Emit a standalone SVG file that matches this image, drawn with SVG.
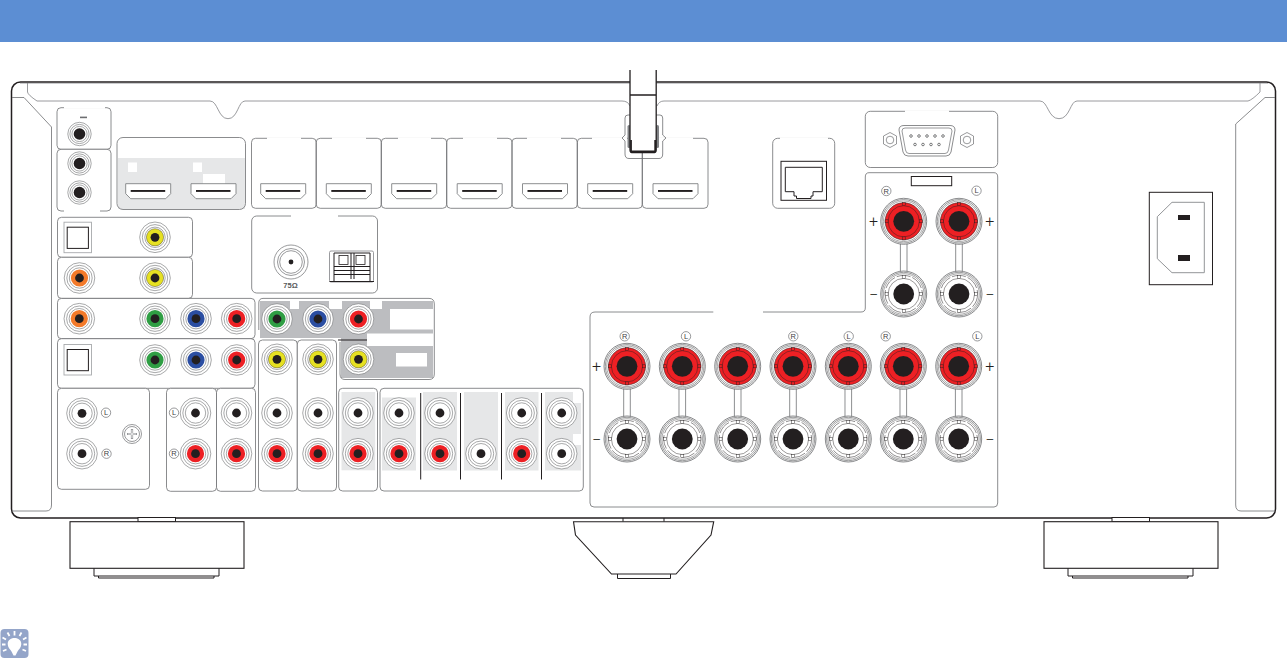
<svg xmlns="http://www.w3.org/2000/svg" xmlns:xlink="http://www.w3.org/1999/xlink" width="1287" height="658" viewBox="0 0 1287 658">
<style>
.p{fill:none;stroke:#6d6e71;stroke-width:.8}
.pf{fill:#fff;stroke:#6d6e71;stroke-width:.8}
.g{fill:none;stroke:#808285;stroke-width:.8}
.k{fill:none;stroke:#231f20;stroke-width:1}
.b{fill:#231f20}
.w{fill:#fff}
.lg{fill:#e6e7e8}
.t{font-family:"Liberation Sans",Arial,sans-serif;fill:#231f20;text-anchor:middle}
.lab{font-size:7.5px;fill:#414042}
.sign{font-family:Roboto,"Liberation Sans",sans-serif;font-weight:300;font-size:16px}
.gap{stroke:#fff;stroke-width:2;fill:none}
.r{fill:none;stroke:#6d6e71;stroke-width:.6}
</style>
<defs>
<g id="rings"><circle r="15.3" fill="#fff" class="r" style="fill:#fff"/><circle r="12.7" class="r"/><circle r="10.2" class="r"/></g>
<g id="jw"><use xlink:href="#rings"/><circle r="4.4" class="b"/></g>
<g id="jr"><use xlink:href="#rings"/><circle r="8.6" fill="#ed2024"/><circle r="4.4" class="b"/></g>
<g id="jy"><use xlink:href="#rings"/><circle r="8.6" fill="#e6e122" stroke="#231f20" stroke-width=".4"/><circle r="4.4" class="b"/></g>
<g id="jg"><use xlink:href="#rings"/><circle r="8.6" fill="#2f9e44"/><circle r="4.4" class="b"/></g>
<g id="jb"><use xlink:href="#rings"/><circle r="8.6" fill="#2b4ea2"/><circle r="4.4" class="b"/></g>
<g id="jo"><use xlink:href="#rings"/><circle r="8.6" fill="#f37a2a"/><circle r="4.4" class="b"/></g>
<g id="jk"><circle r="11.7" class="r" style="fill:#fff"/><circle r="9.6" class="r"/><circle r="7.6" class="r"/><circle r="5.8" class="b"/></g>
<path id="hdmi" d="M0,0H45V10L40,15H5L0,10Z" fill="#fff" stroke="#808285" stroke-width=".9"/>
<g id="hd"><use xlink:href="#hdmi"/><rect x="5" y="6.3" width="34.5" height="1.9" class="b"/></g>
<g id="pr"><circle r="23" fill="#fff" stroke="#58595b" stroke-width=".7"/><circle r="21.7" fill="none" stroke="#58595b" stroke-width=".6"/><circle r="20.3" fill="none" stroke="#58595b" stroke-width=".5"/><circle r="18.6" fill="#ed2024" stroke="#231f20" stroke-width=".5"/><circle r="15.6" fill="none" stroke="#231f20" stroke-width=".45"/><g fill="#ed2024" stroke="#231f20" stroke-width=".45"><rect x="-1.5" y="-18.6" width="3" height="3"/><rect x="-1.5" y="15.600" width="3" height="3"/><rect x="-18.6" y="-1.5" width="3" height="3"/><rect x="15.600" y="-1.5" width="3" height="3"/></g><circle r="10.4" class="b"/></g>
<g id="pk"><circle r="23" fill="#fff" stroke="#58595b" stroke-width=".7"/><circle r="21.7" fill="none" stroke="#58595b" stroke-width=".6"/><circle r="20.3" fill="none" stroke="#58595b" stroke-width=".5"/><circle r="18.6" fill="none" stroke="#231f20" stroke-width=".5" stroke-dasharray="14 2"/><circle r="15.6" fill="none" stroke="#231f20" stroke-width=".45"/><g fill="#fff" stroke="#231f20" stroke-width=".45"><rect x="-1.5" y="-18.6" width="3" height="3"/><rect x="-1.5" y="15.600" width="3" height="3"/><rect x="-18.6" y="-1.5" width="3" height="3"/><rect x="15.600" y="-1.5" width="3" height="3"/></g><circle r="10.4" class="b"/></g>
<g id="cL"><circle r="4.7" fill="#fff" stroke="#6d6e71" stroke-width=".7"/><text class="t lab" y="2.7">L</text></g>
<g id="cR"><circle r="4.7" fill="#fff" stroke="#6d6e71" stroke-width=".7"/><text class="t lab" y="2.7">R</text></g>
<g id="opt"><rect x="0" y="0" width="27.5" height="30.5" fill="#fff" stroke="#a7a9ac" stroke-width=".9"/><rect x="3.2" y="5" width="21.2" height="21.2" fill="#fff" stroke="#231f20" stroke-width="1"/></g>
<g id="link"><rect x="-3.3" y="0" width="6.6" height="30" fill="#fff"/><path d="M-3.3,0V30M3.3,0V30" fill="none" stroke="#808285" stroke-width=".9"/></g>
</defs>

<rect id="header" x="0" y="0" width="1287" height="42" fill="#5c8ed3"/>

<g id="chassis">
<rect x="11.5" y="82" width="1264" height="436" rx="9" fill="#fff" stroke="#231f20" stroke-width="1.5"/>
<path d="M20,83.5H1268" fill="none" stroke="#bcbec0" stroke-width=".8"/>
<path class="g" d="M27.5,83V92Q28,95 37,101H210C218,101 218,118.7 228,118.7C238,118.7 238,101 245,101H622Q628,101 630,106M657,106Q659,101 664,101H1040C1048,101 1048,118.7 1059,118.7C1070,118.7 1070,101 1077,101H1248Q1252,100 1260,92V83"/>
<path class="p" d="M12,97.5H24L51.5,127V505Q51.5,511 46,511H12"/>
<path class="p" d="M1275,97.5H1265L1235.7,124V505Q1235.7,511 1241,511H1275"/>
</g>

<g id="feet">
<g id="foot-left"><rect x="138" y="517.5" width="37.5" height="4.2" class="w" stroke="#231f20"/><rect x="70" y="521.7" width="174" height="46.6" class="w" stroke="#231f20" stroke-width="1.1"/><path class="k" d="M94,568.3V576H219V568.3"/><path class="k" d="M98.5,576V578H214V576"/></g>
<g id="foot-center"><path class="k" d="M623,518V521.7M664,518V521.7"/><path class="w" stroke="#231f20" stroke-width="1.1" d="M573.5,521.7L575.5,535L611.5,574H676L711,535L713.7,521.7Z"/><path class="k" d="M617.5,574V578.5H670.5V574" stroke-width=".8"/></g>
<g id="foot-right"><rect x="1112" y="517.5" width="37.5" height="4.2" class="w" stroke="#231f20"/><rect x="1044" y="521.7" width="174" height="46.6" class="w" stroke="#231f20" stroke-width="1.1"/><path class="k" d="M1068,568.3V576H1193V568.3"/><path class="k" d="M1072.5,576V578H1188V576"/></g>
</g>

<g id="panel-a"><rect class="pf" x="57" y="107.7" width="54" height="41.6" rx="4"/><path class="gap" d="M64,107.7H105"/><rect x="80" y="116.6" width="7" height="1.6" fill="#6d6e71"/><use xlink:href="#jk" x="79.5" y="134"/></g>
<g id="panel-b"><rect class="pf" x="57" y="149.3" width="54" height="61.7" rx="4"/><path class="gap" d="M64,211H100"/><use xlink:href="#jk" x="79.5" y="163.5"/><use xlink:href="#jk" x="79.5" y="192.5"/></g>

<g id="panel-hdmi-out">
<rect x="118" y="158" width="127" height="51" class="lg"/>
<rect class="p" x="117" y="137.5" width="128.5" height="72" rx="6"/>
<rect class="w" x="128" y="162.5" width="9" height="9.5"/><rect class="w" x="193" y="162.5" width="9" height="9.5"/><rect class="w" x="203" y="174" width="22" height="10"/>
<use xlink:href="#hd" x="125.7" y="183.7"/><use xlink:href="#hd" x="191" y="183.7"/>
</g>

<g id="panel-hdmi-1"><rect class="p" x="251.5" y="138.3" width="64.7" height="70" rx="4"/><path class="gap" d="M267,138.3H301"/><use xlink:href="#hd" x="260.7" y="183.7"/></g>
<g id="panel-hdmi-2"><rect class="p" x="316.2" y="138.3" width="65.1" height="70" rx="4"/><path class="gap" d="M332,138.3H366"/><use xlink:href="#hd" x="326.3" y="183.7"/></g>
<g id="panel-hdmi-3"><rect class="p" x="381.3" y="138.3" width="65.4" height="70" rx="4"/><path class="gap" d="M398,138.3H431"/><use xlink:href="#hd" x="391.7" y="183.7"/></g>
<g id="panel-hdmi-4"><rect class="p" x="446.7" y="138.3" width="65.3" height="70" rx="4"/><path class="gap" d="M463,138.3H497"/><use xlink:href="#hd" x="457.2" y="183.7"/></g>
<g id="panel-hdmi-5"><rect class="p" x="512" y="138.3" width="65.3" height="70" rx="4"/><path class="gap" d="M527,138.3H561"/><use xlink:href="#hd" x="522.5" y="183.7"/></g>
<g id="panel-hdmi-6"><rect class="p" x="577.3" y="138.3" width="65" height="70" rx="4"/><path class="gap" d="M592,138.3H627"/><use xlink:href="#hd" x="587.7" y="183.7"/></g>
<g id="panel-hdmi-7"><rect class="p" x="642.3" y="138.3" width="65.7" height="70" rx="4"/><path class="gap" d="M658,138.3H693"/><use xlink:href="#hd" x="653" y="183.7"/></g>

<g id="antenna">
<path fill="none" stroke="#6d6e71" stroke-width=".8" d="M630,115H628Q625,115 625,118V135L622,138L625,141V154Q625,158.5 629,158.5H659Q662.7,158.5 662.7,154V141L666,138L662.7,135V118Q662.7,115 660,115H656"/>
<rect x="627.5" y="125" width="3" height="23" rx="1.5" fill="#808285"/><rect x="656" y="125" width="3" height="23" rx="1.5" fill="#808285"/>
<rect x="630" y="70" width="26.2" height="82.7" fill="#fff"/>
<path fill="none" stroke="#231f20" stroke-width="1.3" d="M630,70V150Q630,152.7 633,152.7H653Q656.2,152.7 656.2,150V70M630,95H656.2"/>
<path fill="none" stroke="#231f20" stroke-width="1.8" d="M631,140V151.5H655.2V140"/>
</g>

<g id="panel-tuner">
<rect class="p" x="251.7" y="216" width="125.8" height="77" rx="5"/><path class="gap" d="M291,216H338"/>
<circle cx="291" cy="262" r="17" fill="#fff" stroke="#6d6e71" stroke-width=".7"/><circle cx="291" cy="262" r="13.5" fill="none" stroke="#6d6e71" stroke-width=".7"/><circle cx="291" cy="262" r="11.3" fill="none" stroke="#6d6e71" stroke-width=".7"/><circle cx="291" cy="262" r="2.4" class="b"/>
<text class="t" x="290.5" y="288" font-size="7.5" font-weight="bold" style="fill:#58595b">75Ω</text>
<rect x="329.5" y="251" width="44" height="31" rx="1.5" fill="#fff" stroke="#808285" stroke-width=".8"/>
<path class="k" d="M334,281V253H370V281M329.5,281.5H374M334,266.5H370M334,270.5H370M334,274.5H370M351,253V279M354,253V279" stroke-width=".8"/>
<rect x="339" y="255.5" width="9" height="9" fill="#fff" stroke="#231f20" stroke-width=".8"/><rect x="356" y="255.5" width="9" height="9" fill="#fff" stroke="#231f20" stroke-width=".8"/>
</g>

<g id="panel-row1"><rect class="pf" x="57.5" y="217.3" width="135" height="40" rx="4"/><use xlink:href="#opt" x="64" y="222.2"/><use xlink:href="#jy" x="155" y="237.3"/></g>
<g id="panel-row2"><rect class="pf" x="57.5" y="257.3" width="135" height="41.1" rx="4"/><use xlink:href="#jo" x="79.5" y="278"/><use xlink:href="#jy" x="155" y="278"/></g>
<g id="panel-row3"><rect class="pf" x="57.5" y="298.4" width="197.5" height="40.3" rx="4"/><use xlink:href="#jo" x="79.3" y="318.7"/><use xlink:href="#jg" x="155" y="318.7"/><use xlink:href="#jb" x="196" y="318.7"/><use xlink:href="#jr" x="236.7" y="318.7"/></g>
<g id="panel-row4"><rect class="pf" x="57.5" y="338.7" width="197.5" height="49.6" rx="4"/><use xlink:href="#opt" x="64" y="344.5"/><use xlink:href="#jg" x="155" y="360"/><use xlink:href="#jb" x="196" y="360"/><use xlink:href="#jr" x="236.7" y="360"/></g>

<g id="panel-phono"><rect class="pf" x="57.5" y="388.3" width="92" height="101" rx="4"/><use xlink:href="#jw" x="82" y="413.3"/><use xlink:href="#jw" x="82" y="453.7"/><use xlink:href="#cL" x="106" y="412.7"/><use xlink:href="#cR" x="106.5" y="453.7"/>
<circle cx="132" cy="434" r="9.5" fill="#fff" stroke="#6d6e71" stroke-width=".7"/><circle cx="132" cy="434" r="7.5" fill="none" stroke="#6d6e71" stroke-width=".7"/><path d="M132,429V439M127,434H137" fill="none" stroke="#808285" stroke-width="2.2"/><path d="M132,429.600V438.400M127.600,434H136.400" fill="none" stroke="#fff" stroke-width="1"/></g>
<g id="panel-audio-1"><rect class="pf" x="166.5" y="388.3" width="50" height="103" rx="4"/><use xlink:href="#jw" x="195.5" y="413"/><use xlink:href="#jr" x="195.5" y="453.7"/><use xlink:href="#cL" x="174" y="412.7"/><use xlink:href="#cR" x="174" y="453.7"/></g>
<g id="panel-audio-2"><rect class="pf" x="216.5" y="388.3" width="39" height="103" rx="4"/><use xlink:href="#jw" x="236.5" y="413"/><use xlink:href="#jr" x="236.5" y="453.7"/></g>

<g id="panel-av-out">
<path d="M260,301H290V309H299V301H329V309H342V301H370V309H382V301H433V333.500H367V346H433V378H341V338H260Z" fill="#bcbdc0"/>
<rect class="w" x="390" y="309" width="43" height="20.5"/><rect class="w" x="396" y="353" width="31" height="13.5"/>
<path class="p" d="M263,298.4H429Q434.3,298.4 434.3,304V374Q434.3,379.5 429,379.5H345Q340,379.5 340,374V342M258.8,330V303Q258.8,298.4 263,298.4"/>
<path d="M338,340H367" stroke="#231f20" stroke-width="1" fill="none"/>
<use xlink:href="#jg" x="277" y="319"/><use xlink:href="#jb" x="318" y="319"/><use xlink:href="#jr" x="358.5" y="319"/><use xlink:href="#jy" x="358.5" y="359.3"/>
</g>

<g id="panel-video-1"><rect class="pf" x="258.5" y="340" width="38.8" height="151" rx="4"/><use xlink:href="#jy" x="277" y="359.3"/><use xlink:href="#jw" x="277" y="413"/><use xlink:href="#jr" x="277" y="453.7"/></g>
<g id="panel-video-2"><rect class="pf" x="297.3" y="340" width="39.2" height="151" rx="4"/><use xlink:href="#jy" x="318" y="359.3"/><use xlink:href="#jw" x="318" y="413"/><use xlink:href="#jr" x="318" y="453.7"/></g>
<g id="panel-audio-3"><rect class="pf" x="338.7" y="388.3" width="38.8" height="102.7" rx="4"/><rect class="lg" x="341.5" y="392" width="33.7" height="78.3"/><use xlink:href="#jw" x="358" y="413"/><use xlink:href="#jr" x="358" y="453.7"/></g>
<g id="panel-multi">
<rect class="pf" x="380" y="388.3" width="203.3" height="102.7" rx="4"/>
<rect class="lg" x="382" y="397.5" width="34" height="73"/><rect class="lg" x="423" y="392" width="34" height="78.5"/><rect class="lg" x="464" y="392" width="34" height="78.5"/><rect class="lg" x="505" y="392" width="33.5" height="78.5"/><rect class="lg" x="545" y="392" width="36" height="78.5"/>
<rect class="w" x="573" y="392" width="8.5" height="11"/><rect class="w" x="573" y="434" width="8.5" height="11"/>
<path class="k" d="M420.7,393V479.5M460.5,393V479.5M501.5,393V479.5M541.5,393V479.5"/>
<use xlink:href="#jw" x="399" y="413"/><use xlink:href="#jr" x="399" y="453.7"/><use xlink:href="#jw" x="440" y="413"/><use xlink:href="#jr" x="440" y="453.7"/><use xlink:href="#jw" x="481" y="453.7"/><use xlink:href="#jw" x="521.7" y="413"/><use xlink:href="#jr" x="521.7" y="453.7"/><use xlink:href="#jw" x="561.7" y="413"/><use xlink:href="#jw" x="561.7" y="453.7"/>
</g>

<g id="panel-lan"><rect class="p" x="772.7" y="138.3" width="62" height="70" rx="5"/><path class="gap" d="M780,138.3H828"/><rect x="781" y="161.3" width="45.5" height="39" fill="#fff" stroke="#231f20" stroke-width="1"/><path class="k" stroke-width=".9" d="M785.3,167.3H822.3V191.7H813V196H811V198.5H796.5V196H794V191.7H785.3Z"/></g>

<g id="panel-rs232"><rect class="p" x="865.3" y="111.3" width="132.4" height="56.2" rx="5"/><path class="gap" d="M905,111.3H949"/>
<path fill="#fff" stroke="#6d6e71" stroke-width=".8" d="M904,125.5H950Q955,125.5 955,130L951,152Q950,156 946,156H908Q904,156 903,152L899,130Q899,125.5 904,125.5Z"/>
<path fill="none" stroke="#6d6e71" stroke-width=".7" d="M905,128H949Q952,128 952,131L948.5,150Q948,153.5 945,153.5H909Q906,153.5 905.5,150L902,131Q902,128 905,128Z"/>
<g fill="#fff" stroke="#6d6e71" stroke-width=".7"><path d="M890,132.5L896.5,136V144L890,147.5L883.5,144V136Z"/><circle cx="890" cy="140" r="3.8"/><path d="M967,132.5L973.5,136V144L967,147.5L960.5,144V136Z"/><circle cx="967" cy="140" r="3.8"/></g>
<g fill="#fff" stroke="#58595b" stroke-width=".8"><circle cx="911" cy="136" r="1.3"/><circle cx="919" cy="136" r="1.3"/><circle cx="927" cy="136" r="1.3"/><circle cx="935" cy="136" r="1.3"/><circle cx="943" cy="136" r="1.3"/><circle cx="915" cy="144.5" r="1.3"/><circle cx="923" cy="144.5" r="1.3"/><circle cx="931" cy="144.5" r="1.3"/><circle cx="939" cy="144.5" r="1.3"/></g>
</g>

<g id="panel-speakers">
<path class="p" d="M869,172.7H994Q997.7,172.7 997.7,177V503Q997.7,507 994,507H594Q590,507 590,503V317Q590,312 595,312H861Q865.3,312 865.3,308V177Q865.3,172.7 869,172.7Z"/>
<path class="gap" d="M713.3,312H763"/>
<rect x="911.3" y="176.5" width="40.4" height="9.2" fill="#fff" stroke="#231f20" stroke-width="1"/>
<use xlink:href="#cR" x="886.3" y="191"/><use xlink:href="#cL" x="976.5" y="190.7"/>
<use xlink:href="#link" x="903.7" y="243"/><use xlink:href="#link" x="959" y="243"/>
<use xlink:href="#pr" x="903.7" y="221.3"/><use xlink:href="#pr" x="959" y="221.3"/><use xlink:href="#pk" x="903.7" y="294"/><use xlink:href="#pk" x="959" y="294"/>
<text class="t sign" x="873.5" y="226.5">+</text><text class="t sign" x="989.7" y="226.5">+</text><text class="t sign" x="873.5" y="299.5">−</text><text class="t sign" x="989.7" y="299.5">−</text>
<use xlink:href="#link" x="627" y="388"/><use xlink:href="#link" x="682.3" y="388"/><use xlink:href="#link" x="737.7" y="388"/><use xlink:href="#link" x="793" y="388"/><use xlink:href="#link" x="848.3" y="388"/><use xlink:href="#link" x="903.3" y="388"/><use xlink:href="#link" x="958.7" y="388"/>
<use xlink:href="#pr" x="627" y="366.3"/><use xlink:href="#pr" x="682.3" y="366.3"/><use xlink:href="#pr" x="737.7" y="366.3"/><use xlink:href="#pr" x="793" y="366.3"/><use xlink:href="#pr" x="848.3" y="366.3"/><use xlink:href="#pr" x="903.3" y="366.3"/><use xlink:href="#pr" x="958.7" y="366.3"/>
<use xlink:href="#pk" x="627" y="439"/><use xlink:href="#pk" x="682.3" y="439"/><use xlink:href="#pk" x="737.7" y="439"/><use xlink:href="#pk" x="793" y="439"/><use xlink:href="#pk" x="848.3" y="439"/><use xlink:href="#pk" x="903.3" y="439"/><use xlink:href="#pk" x="958.7" y="439"/>
<use xlink:href="#cR" x="624.7" y="336.3"/><use xlink:href="#cL" x="686" y="336.3"/><use xlink:href="#cR" x="793.3" y="336.3"/><use xlink:href="#cL" x="848.7" y="336.3"/><use xlink:href="#cR" x="885.7" y="336.3"/><use xlink:href="#cL" x="977.3" y="336.3"/>
<text class="t sign" x="596.5" y="371.5">+</text><text class="t sign" x="989.7" y="371.5">+</text><text class="t sign" x="596.5" y="444.5">−</text><text class="t sign" x="989.7" y="444.5">−</text>
</g>

<g id="power-inlet">
<rect x="1149.3" y="192.3" width="63.2" height="92.4" fill="#fff" stroke="#231f20" stroke-width="1"/>
<path d="M1172,202.3H1204.3V272.7H1172L1157.3,258.7V216.7Z" fill="#fff" stroke="#939598" stroke-width="1"/>
<rect x="1178" y="215" width="12" height="5" class="b"/><rect x="1178" y="255" width="12" height="6" class="b"/>
</g>

<g id="tip-icon">
<rect x="0.5" y="629" width="28" height="29" rx="4" fill="#94a5c9"/>
<path d="M14.500,638C10.500,638 7.700,640.500 7.700,644C7.700,647.500 10,649 11.500,651.500L13.500,655.500H15.500L17.500,651.500C19,649 21.300,647.500 21.300,644C21.300,640.500 18.500,638 14.500,638Z" fill="#fff"/>
<path d="M14.500,631V635.500M7.500,632.500L9.500,636M21.500,632.500L19.500,636M2.500,637.500L6,639.500M26.500,637.500L23,639.500M2,644.500H5.500M27,644.500H23.500M3,651L6.500,649.500M26,651L22.500,649.500" fill="none" stroke="#fff" stroke-width="1.800"/>
</g>
</svg>
